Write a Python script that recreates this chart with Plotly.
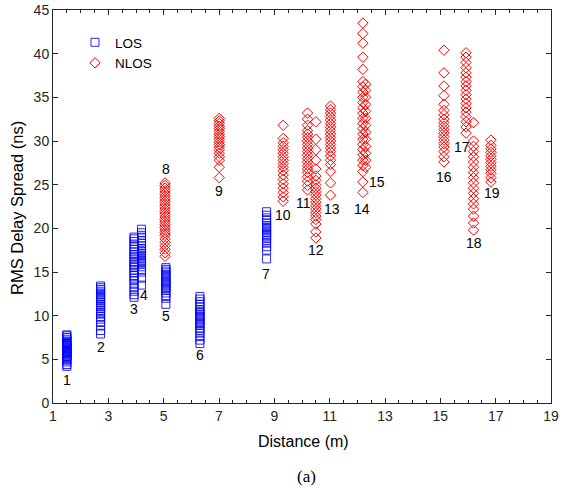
import plotly.graph_objects as go

# ---------------- data ----------------
los_distances = [1.5, 2.72, 3.93, 4.2, 5.08, 6.31, 8.72]
los_labels = ["1", "2", "3", "4", "5", "6", "7"]
los_1 = [4.2, 4.4, 4.7, 4.9, 5.0, 5.2, 5.3, 5.4, 5.5, 5.6, 5.7, 5.8, 5.9, 6.0, 6.1, 6.2,
         6.3, 6.4, 6.5, 6.6, 6.7, 6.8, 6.9, 7.0, 7.1, 7.3, 7.5, 7.7, 7.8]
los_2 = [7.9, 8.3, 8.9, 9.3, 9.6, 9.9, 10.2, 10.4, 10.6, 10.8, 11.0, 11.1, 11.3, 11.5,
         11.7, 11.9, 12.0, 12.2, 12.4, 12.6, 12.8, 13.0, 13.2, 13.4]
los_3 = [12.1, 12.4, 12.8, 13.2, 13.6, 14.0, 14.3, 14.6, 14.9, 15.2, 15.5, 15.7, 15.9,
         16.2, 16.5, 16.8, 17.0, 17.3, 17.6, 17.9, 18.2, 18.5, 18.8, 19.0]
los_4 = [13.5, 14.3, 15.0, 15.3, 15.6, 15.9, 16.1, 16.3, 16.5, 16.7, 16.9, 17.1, 17.3,
         17.5, 17.7, 18.0, 18.3, 18.6, 18.9, 19.2, 19.5, 19.9]
los_5 = [11.3, 12.0, 12.3, 12.6, 12.9, 13.1, 13.3, 13.5, 13.7, 13.9, 14.1, 14.3, 14.5,
         14.7, 14.9, 15.1, 15.3, 15.5]
los_6 = [6.8, 7.2, 7.6, 8.0, 8.3, 8.6, 8.9, 9.1, 9.3, 9.5, 9.7, 9.9, 10.1, 10.3, 10.5,
         10.7, 11.0, 11.3, 11.6, 11.9, 12.2]
los_7 = [16.5, 17.5, 17.9, 18.3, 18.6, 18.9, 19.1, 19.3, 19.5, 19.7, 19.9, 20.1, 20.3,
         20.6, 20.9, 21.2, 21.5, 21.9]

nlos_distances = [5.05, 7.01, 9.32, 10.2, 10.5, 11.03, 12.2, 12.3, 15.13, 15.93, 16.2, 16.83]
nlos_labels = ["8", "9", "10", "11", "12", "13", "14", "15", "16", "17", "18", "19"]
nlos_8 = [16.8, 17.2, 17.6, 18.0, 18.4, 18.8, 19.2, 19.5, 19.8, 20.1, 20.4, 20.7, 21.0,
          21.3, 21.6, 21.9, 22.2, 22.5, 22.8, 23.1, 23.4, 23.7, 24.0, 24.3, 24.6, 24.9, 25.2]
nlos_9 = [25.8, 27.0, 27.8, 28.2, 28.6, 29.0, 29.3, 29.6, 29.9, 30.2, 30.5, 30.8, 31.1,
          31.4, 31.7, 32.0, 32.3, 32.6]
nlos_10 = [23.1, 23.6, 24.1, 24.6, 25.1, 25.6, 26.1, 26.6, 27.0, 27.4, 27.8, 28.2, 28.6,
           29.0, 29.4, 29.8, 30.3, 31.8]
nlos_11 = [24.4, 24.9, 25.4, 25.9, 26.4, 26.8, 27.2, 27.6, 28.0, 28.4, 28.8, 29.2, 29.6,
           30.0, 30.4, 30.8, 31.2, 31.8, 32.5, 33.2]
nlos_12 = [18.9, 19.6, 20.5, 21.0, 21.4, 21.8, 22.2, 22.6, 23.0, 23.4, 23.8, 24.2, 24.6,
           25.0, 25.5, 26.0, 26.8, 27.8, 29.0, 30.2, 32.2]
nlos_13 = [23.8, 25.2, 26.5, 27.3, 27.8, 28.3, 28.8, 29.2, 29.6, 30.0, 30.4, 30.8, 31.2,
           31.6, 32.0, 32.4, 32.8, 33.2, 33.6, 34.0]
nlos_14 = [24.1, 25.3, 26.5, 27.2, 27.8, 28.4, 29.0, 29.6, 30.2, 30.8, 31.4, 32.0, 32.6,
           33.2, 33.8, 34.4, 35.0, 35.6, 36.2, 36.8, 38.2, 39.6, 41.2, 42.3, 43.5]
nlos_15 = [27.0, 27.8, 28.6, 29.4, 30.2, 31.0, 31.8, 32.6, 33.4, 34.2, 35.0, 35.8, 36.5]
nlos_16 = [27.6, 28.2, 28.8, 29.3, 29.7, 30.1, 30.5, 30.9, 31.3, 31.7, 32.1, 32.5, 33.0,
           33.5, 34.2, 35.2, 36.3, 37.8, 40.4]
nlos_17 = [30.9, 31.6, 32.2, 32.8, 33.3, 33.8, 34.3, 34.8, 35.3, 35.8, 36.3, 36.8, 37.3,
           37.8, 38.4, 39.0, 39.6, 40.1]
nlos_18 = [19.8, 20.6, 21.4, 22.2, 22.8, 23.4, 24.0, 24.6, 25.2, 25.8, 26.4, 27.0, 27.6,
           28.2, 28.8, 29.4, 30.0, 32.1]
nlos_19 = [25.3, 25.8, 26.3, 26.7, 27.1, 27.5, 27.9, 28.3, 28.7, 29.1, 29.5, 30.1]

los_sets = [los_1, los_2, los_3, los_4, los_5, los_6, los_7]
nlos_sets = [nlos_8, nlos_9, nlos_10, nlos_11, nlos_12, nlos_13, nlos_14, nlos_15,
             nlos_16, nlos_17, nlos_18, nlos_19]

# label anchor positions (data coordinates) for the point-set numbers
label_pos = {
    "1": (1.5, 2.6), "2": (2.72, 6.4), "3": (3.93, 10.8), "4": (4.3, 12.4),
    "5": (5.08, 10.0), "6": (6.31, 5.5), "7": (8.7, 14.8), "8": (5.08, 26.8),
    "9": (7.0, 24.3), "10": (9.33, 21.5), "11": (10.05, 22.9), "12": (10.5, 17.5),
    "13": (11.07, 22.2), "14": (12.18, 22.2), "15": (12.7, 25.3), "16": (15.15, 25.9),
    "17": (15.8, 29.3), "18": (16.2, 18.3), "19": (16.85, 24.1),
}


def flatten(distances, sets):
    xs, ys = [], []
    for d, vals in zip(distances, sets):
        xs.extend([d] * len(vals))
        ys.extend(vals)
    return xs, ys


los_x, los_y = flatten(los_distances, los_sets)
nlos_x, nlos_y = flatten(nlos_distances, nlos_sets)

SANS = "Arial, Liberation Sans, sans-serif"

# plot area at page pixels x 53..551, y 10..403 (body margin removed below)
W, H = 561, 489
PL, PR, PT, PB = 53, 551, 10, 403
PW, PH = PR - PL, PB - PT


def px(page_x):
    return (page_x - PL) / PW


def py(page_y):
    return (PB - page_y) / PH


fig = go.Figure()
fig.add_trace(go.Scatter(
    x=los_x, y=los_y, mode="markers", name="LOS",
    marker=dict(symbol="square-open", size=8, color="rgba(0,0,255,0.85)",
                line=dict(width=1, color="rgba(0,0,255,0.85)")),
))
fig.add_trace(go.Scatter(
    x=nlos_x, y=nlos_y, mode="markers", name="NLOS",
    marker=dict(symbol="diamond-open", size=8, color="#ff0000",
                line=dict(width=1, color="#ff0000")),
))

annotations = []
for lab in los_labels + nlos_labels:
    x, y = label_pos[lab]
    annotations.append(dict(x=x, y=y, xref="x", yref="y", text=lab, showarrow=False,
                            xanchor="center", yanchor="middle",
                            font=dict(family=SANS, size=14, color="black")))

annotations.append(dict(x=px(303), y=py(441), xref="paper", yref="paper",
                        text="Distance (m)", showarrow=False,
                        xanchor="center", yanchor="middle",
                        font=dict(family=SANS, size=16, color="black")))
annotations.append(dict(x=px(17), y=py(208), xref="paper", yref="paper",
                        text="RMS Delay Spread (ns)", showarrow=False, textangle=-90,
                        xanchor="center", yanchor="middle",
                        font=dict(family=SANS, size=16.5, color="black")))
annotations.append(dict(x=px(306), y=py(476), xref="paper", yref="paper",
                        text="(a)", showarrow=False, xanchor="center", yanchor="middle",
                        font=dict(family="Times New Roman, Liberation Serif, serif", size=17,
                                  color="black")))

axis_common = dict(showgrid=False, zeroline=False, showline=True, linecolor="#262626",
                   linewidth=1, mirror="ticks", ticks="inside", ticklen=5, tickcolor="#262626",
                   ticklabeloverflow="allow",
                   tickfont=dict(family=SANS, size=14, color="#262626"))

fig.update_layout(
    width=W, height=H,
    margin=dict(l=PL, r=W - PR, t=PT, b=H - PB, autoexpand=False),
    paper_bgcolor="white", plot_bgcolor="white",
    showlegend=True,
    legend=dict(x=px(75), y=py(27), xanchor="left", yanchor="top",
                bgcolor="rgba(0,0,0,0)", font=dict(family=SANS, size=13.5, color="black"),
                tracegroupgap=0),
    xaxis=dict(range=[1, 19], tickmode="linear", tick0=1, dtick=2,
               minor=dict(dtick=0.5, ticks="inside", ticklen=3, tickcolor="#262626"),
               **axis_common),
    yaxis=dict(range=[0, 45], tickmode="linear", tick0=0, dtick=5, **axis_common),
    annotations=annotations,
)

fig.write_html(
    "out.html",
    config={"displayModeBar": False},
    post_script="document.body.style.margin='0px';document.body.style.overflow='hidden';",
)
